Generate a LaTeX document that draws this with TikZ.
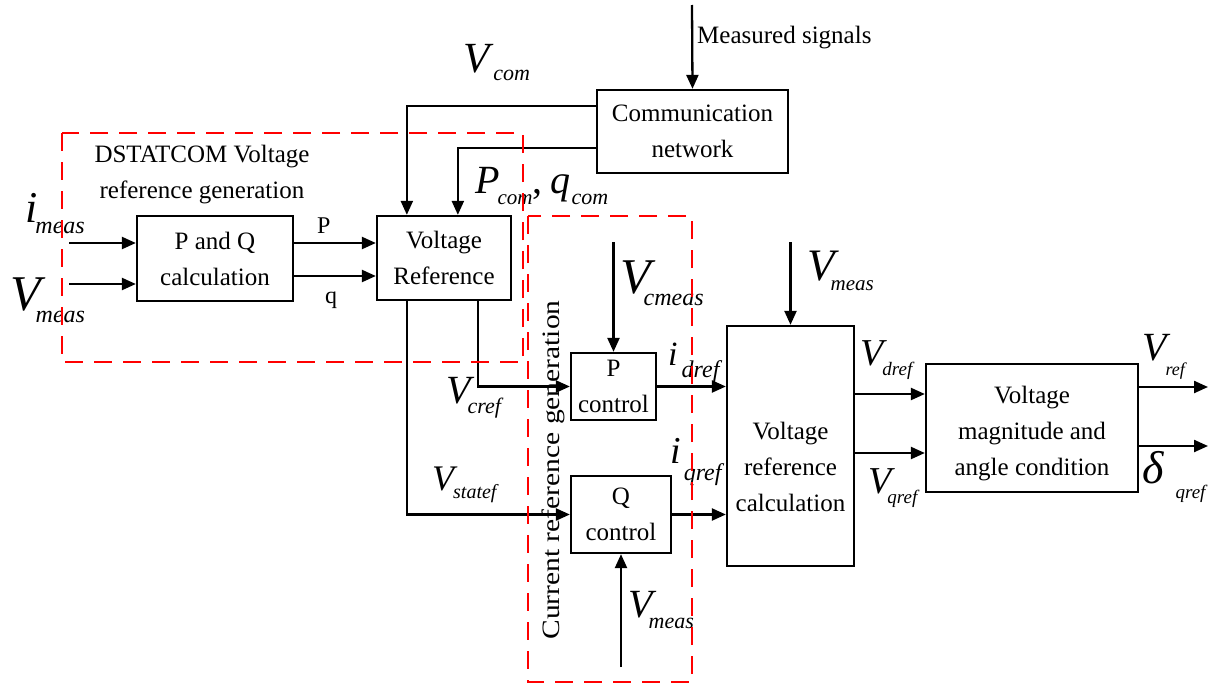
\documentclass[tikz,border=0pt]{standalone}
\usepackage{fontspec}
\setmainfont{Liberation Serif}
\usetikzlibrary{arrows.meta,calc}
\newcommand\ml[6]{{\fontsize{#1}{#1}\selectfont\itshape #2}\hspace{#3pt}\raisebox{-#4pt}{\fontsize{#5}{#5}\selectfont\itshape #6}}
\newcommand\bfs{\fontsize{25}{36}\selectfont}
\begin{document}
\begin{tikzpicture}[x=1pt,y=-1pt,
  blk/.style={draw, line width=2.3pt, inner sep=0pt, align=center, font=\bfs},
  txt/.style={align=center, font=\bfs, inner sep=0pt},
  arr/.style={line width=2.3pt, -{Triangle[length=14pt,width=12pt]}},
  reddash/.style={draw=red, line width=2.5pt, dash pattern=on 18pt off 11pt},
  lab/.style={anchor=base west, inner sep=0pt},
  small/.style={anchor=base west, inner sep=0pt, font=\fontsize{24}{24}\selectfont}]
\useasboundingbox (0,0) rectangle (1218,688);

% blocks
\node[blk, minimum width=156pt, minimum height=85pt] (pq) at (215,258.5) {P and Q\\calculation};
\node[blk, minimum width=134pt, minimum height=84pt] (vr) at (444,258) {Voltage\\Reference};
\node[blk, minimum width=191pt, minimum height=83pt] (cn) at (692.5,131.5) {Communication\\network};
\node[blk, minimum width=85pt, minimum height=67pt] (pc) at (613.5,386.5) {P\\control};
\node[blk, minimum width=100pt, minimum height=77pt] (qc) at (621,514.5) {Q\\control};
\node[blk, minimum width=127pt, minimum height=240pt] (vrc) at (790.5,446) {};
\node[txt] (vrct) at (790.5,467) {Voltage\\reference\\calculation};
\node[blk, minimum width=212pt, minimum height=128pt] (vmac) at (1032,428) {};
\node[txt] (vmact) at (1032,434) {Voltage\\magnitude and\\angle condition};

% free ends
\coordinate (ms) at (692,5);
\coordinate (im) at (69,243);
\coordinate (vm) at (69,284);
\coordinate (vcm) at (613.5,242);
\coordinate (vmb) at (621,667);
\coordinate (vmt) at (790.5,242);
\coordinate (vro) at (1208,387);
\coordinate (dlo) at (1208,446);

% connectors
\draw[arr] (ms) -- (cn.north);
\draw[arr] (im) -- (pq.west |- im);
\draw[arr] (vm) -- (pq.west |- vm);
\draw[arr] (pq.east |- 0,243) -- (vr.west |- 0,243);
\draw[arr] (pq.east |- 0,276) -- (vr.west |- 0,276);
\draw[arr] (cn.west |- 0,106) -| ($(vr.north west)+(31,0)$);
\draw[arr] (cn.west |- 0,148) -| ($(vr.north west)+(82,0)$);
\draw[arr] ($(vr.south west)+(31,0)$) |- (qc.west);
\draw[arr] ($(vr.south west)+(102,0)$) |- (pc.west);
\draw[arr] (vcm) -- (pc.north);
\draw[arr] (vmb) -- (qc.south);
\draw[arr] (pc.east) -- (vrc.west |- pc.east);
\draw[arr] (qc.east) -- (vrc.west |- qc.east);
\draw[arr] (vmt) -- (vrc.north);
\draw[arr] (vrc.east |- 0,394) -- (vmac.west |- 0,394);
\draw[arr] (vrc.east |- 0,453) -- (vmac.west |- 0,453);
\draw[arr] (vmac.east |- vro) -- (vro);
\draw[arr] (vmac.east |- dlo) -- (dlo);

% texts
\node[txt, anchor=west] (mst) at (697,38) {Measured signals};
\node[txt] (dst) at (202,175) {DSTATCOM Voltage\\reference generation};
\node[txt, rotate=90] (crg) at (553,470) {\scalebox{1.18}[1]{Current reference generation}};
\node[small] (lp) at (317,233) {P};
\node[small] (lq) at (325,303) {q};

% math labels
\node[lab] (limeas) at (25,222) {\ml{44}{i}{-2}{11}{24}{meas}};
\node[lab] (lvmeas) at (10,310) {\ml{50}{V}{-5}{12}{24}{meas}};
\node[lab] (lvcom) at (463,72) {\ml{43}{V}{4}{8}{22}{com}};
\node[lab] (lpcom) at (475,193) {\ml{40}{P}{-2}{11}{21}{com}{\fontsize{40}{40}\selectfont ,}\hspace{8pt}\ml{40}{q}{1}{11}{22}{com}};
\node[lab] (lvcref) at (446,403) {\ml{40}{V}{-3}{10}{22}{cref}};
\node[lab] (lvstat) at (432,490) {\ml{36}{V}{-1}{8}{20}{statef}};
\node[lab] (lvcmeas) at (620,293) {\ml{50}{V}{-7}{12}{24}{cmeas}};
\node[lab] (lidref) at (668,365) {\ml{34}{i}{4}{12}{24}{dref}};
\node[lab] (liqref) at (670,463) {\ml{38}{i}{3}{17}{24}{qref}};
\node[lab] (lvmt) at (807,280) {\ml{45}{V}{-4}{10}{21}{meas}};
\node[lab] (lvmb) at (628,617) {\ml{40}{V}{-4}{11}{22}{meas}};
\node[lab] (lvdref) at (860,365) {\ml{38}{V}{-1}{10}{19}{dref}};
\node[lab] (lvqref) at (868,493) {\ml{38}{V}{-4}{10}{19}{qref}};
\node[lab] (lvref) at (1142,360) {\ml{40}{V}{-1}{15}{18}{ref}};
\node[lab] (ldelta) at (1142,483) {\ml{46}{δ}{12}{15}{19}{qref}};

% red dashed groups
\draw[reddash] (62,133) rectangle (523,362);
\draw[reddash] (528,216) rectangle (692,682);
\end{tikzpicture}
\end{document}
